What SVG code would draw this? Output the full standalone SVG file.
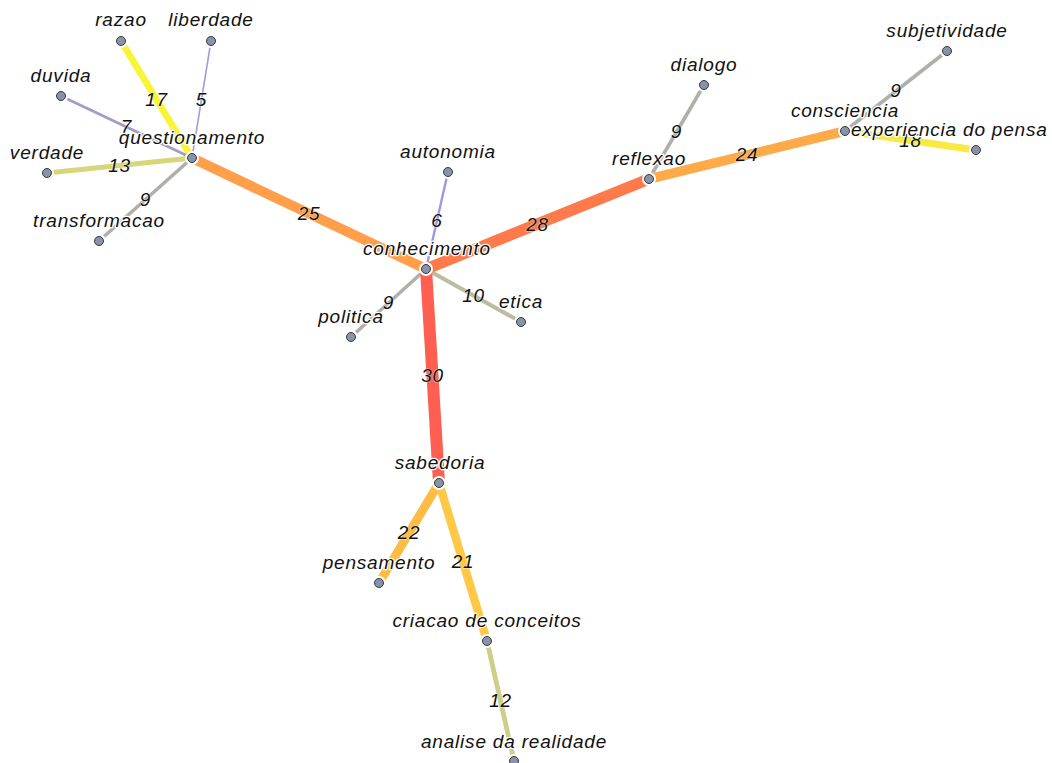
<svg xmlns="http://www.w3.org/2000/svg" width="1052" height="763" viewBox="0 0 1052 763">
  <style>
    .lbl { font-family: "Liberation Sans", Arial, sans-serif; font-style: italic; font-size: 19px; letter-spacing: 0.8px; fill: #111; }
    .node-lbl { text-anchor: middle; paint-order: stroke; stroke: #fff; stroke-width: 2.5px; stroke-linejoin: round; }
    .edge-lbl { text-anchor: middle; paint-order: stroke; stroke: #fff; stroke-width: 1px; stroke-opacity: 0.6; }
    .edge { fill: none; stroke-linecap: butt; }
    .gap { fill: #fff; }
    .dot { fill: #8892a8; stroke: #3a3a3a; stroke-width: 1; }
  </style>

  <!-- weighted links: stroke width grows with weight, colour runs lavender -> grey -> yellow -> red -->
  <g id="connectors">
    <line class="edge" x1="192" y1="158" x2="121" y2="41" stroke="#f7f43a" stroke-width="6.8"/>
    <line class="edge" x1="192" y1="158" x2="211" y2="41" stroke="#a0a0e0" stroke-width="1.6"/>
    <line class="edge" x1="192" y1="158" x2="61" y2="96" stroke="#a29cc6" stroke-width="2.8"/>
    <line class="edge" x1="192" y1="158" x2="47" y2="173" stroke="#d6d67a" stroke-width="5.2"/>
    <line class="edge" x1="192" y1="158" x2="99" y2="241" stroke="#b0b0aa" stroke-width="3.6"/>
    <line class="edge" x1="192" y1="158" x2="426" y2="269" stroke="#ff9f4a" stroke-width="10"/>
    <line class="edge" x1="426" y1="269" x2="448" y2="172" stroke="#9c9ade" stroke-width="2.4"/>
    <line class="edge" x1="426" y1="269" x2="351" y2="337" stroke="#b0b0aa" stroke-width="3.6"/>
    <line class="edge" x1="426" y1="269" x2="521" y2="322" stroke="#bcbca0" stroke-width="4"/>
    <line class="edge" x1="426" y1="269" x2="649" y2="179" stroke="#ff7a4a" stroke-width="11.2"/>
    <line class="edge" x1="426" y1="269" x2="439" y2="483" stroke="#ff5f50" stroke-width="12"/>
    <line class="edge" x1="649" y1="179" x2="704" y2="85" stroke="#b0b0aa" stroke-width="3.6"/>
    <line class="edge" x1="649" y1="179" x2="845" y2="131" stroke="#ffaa48" stroke-width="9.6"/>
    <line class="edge" x1="845" y1="131" x2="947" y2="51" stroke="#b0b0aa" stroke-width="3.6"/>
    <line class="edge" x1="845" y1="131" x2="976" y2="150" stroke="#f8ea40" stroke-width="7.2"/>
    <line class="edge" x1="439" y1="483" x2="379" y2="583" stroke="#ffbc44" stroke-width="8.8"/>
    <line class="edge" x1="439" y1="483" x2="487" y2="641" stroke="#ffc845" stroke-width="8.4"/>
    <line class="edge" x1="487" y1="641" x2="514" y2="761" stroke="#cece8a" stroke-width="4.8"/>
  </g>

  <!-- link weights, placed at the middle of each link -->
  <g id="weights" class="lbl edge-lbl">
    <text x="156.5" y="106">17</text>
    <text x="201.5" y="106">5</text>
    <text x="126.5" y="133">7</text>
    <text x="119.5" y="172">13</text>
    <text x="145.5" y="206">9</text>
    <text x="309" y="220">25</text>
    <text x="437" y="227">6</text>
    <text x="388.5" y="309">9</text>
    <text x="473.5" y="302">10</text>
    <text x="537.5" y="231">28</text>
    <text x="432.5" y="382">30</text>
    <text x="676.5" y="138">9</text>
    <text x="747" y="161">24</text>
    <text x="896" y="97">9</text>
    <text x="910.5" y="147">18</text>
    <text x="409" y="539">22</text>
    <text x="463" y="568">21</text>
    <text x="500.5" y="707">12</text>
  </g>

  <g id="n-questionamento"><circle class="gap" cx="192" cy="158" r="7"/><circle class="dot" cx="192" cy="158" r="4.5"/><text class="lbl node-lbl" x="192" y="144">questionamento</text></g>
  <g id="n-razao"><circle class="gap" cx="121" cy="41" r="7"/><circle class="dot" cx="121" cy="41" r="4.5"/><text class="lbl node-lbl" x="121" y="26">razao</text></g>
  <g id="n-liberdade"><circle class="gap" cx="211" cy="41" r="7"/><circle class="dot" cx="211" cy="41" r="4.5"/><text class="lbl node-lbl" x="211" y="26">liberdade</text></g>
  <g id="n-duvida"><circle class="gap" cx="61" cy="96" r="7"/><circle class="dot" cx="61" cy="96" r="4.5"/><text class="lbl node-lbl" x="61" y="82">duvida</text></g>
  <g id="n-verdade"><circle class="gap" cx="47" cy="173" r="7"/><circle class="dot" cx="47" cy="173" r="4.5"/><text class="lbl node-lbl" x="47" y="159">verdade</text></g>
  <g id="n-transformacao"><circle class="gap" cx="99" cy="241" r="7"/><circle class="dot" cx="99" cy="241" r="4.5"/><text class="lbl node-lbl" x="99" y="227">transformacao</text></g>
  <g id="n-conhecimento"><circle class="gap" cx="426" cy="269" r="7"/><circle class="dot" cx="426" cy="269" r="4.5"/><text class="lbl node-lbl" x="427" y="255">conhecimento</text></g>
  <g id="n-autonomia"><circle class="gap" cx="448" cy="172" r="7"/><circle class="dot" cx="448" cy="172" r="4.5"/><text class="lbl node-lbl" x="448" y="158">autonomia</text></g>
  <g id="n-politica"><circle class="gap" cx="351" cy="337" r="7"/><circle class="dot" cx="351" cy="337" r="4.5"/><text class="lbl node-lbl" x="351" y="323">politica</text></g>
  <g id="n-etica"><circle class="gap" cx="521" cy="322" r="7"/><circle class="dot" cx="521" cy="322" r="4.5"/><text class="lbl node-lbl" x="521" y="308">etica</text></g>
  <g id="n-reflexao"><circle class="gap" cx="649" cy="179" r="7"/><circle class="dot" cx="649" cy="179" r="4.5"/><text class="lbl node-lbl" x="649" y="165">reflexao</text></g>
  <g id="n-dialogo"><circle class="gap" cx="704" cy="85" r="7"/><circle class="dot" cx="704" cy="85" r="4.5"/><text class="lbl node-lbl" x="704" y="71">dialogo</text></g>
  <g id="n-consciencia"><circle class="gap" cx="845" cy="131" r="7"/><circle class="dot" cx="845" cy="131" r="4.5"/><text class="lbl node-lbl" x="845" y="117">consciencia</text></g>
  <g id="n-subjetividade"><circle class="gap" cx="947" cy="51" r="7"/><circle class="dot" cx="947" cy="51" r="4.5"/><text class="lbl node-lbl" x="947" y="37">subjetividade</text></g>
  <g id="n-experiencia"><circle class="gap" cx="976" cy="150" r="7"/><circle class="dot" cx="976" cy="150" r="4.5"/><text class="lbl node-lbl" x="851" y="136" style="text-anchor:start">experiencia do pensa</text></g>
  <g id="n-sabedoria"><circle class="gap" cx="439" cy="483" r="7"/><circle class="dot" cx="439" cy="483" r="4.5"/><text class="lbl node-lbl" x="440" y="469">sabedoria</text></g>
  <g id="n-pensamento"><circle class="gap" cx="379" cy="583" r="7"/><circle class="dot" cx="379" cy="583" r="4.5"/><text class="lbl node-lbl" x="379" y="569">pensamento</text></g>
  <g id="n-criacao"><circle class="gap" cx="487" cy="641" r="7"/><circle class="dot" cx="487" cy="641" r="4.5"/><text class="lbl node-lbl" x="487" y="627">criacao de conceitos</text></g>
  <g id="n-analise"><circle class="gap" cx="514" cy="761" r="7"/><circle class="dot" cx="514" cy="761" r="4.5"/><text class="lbl node-lbl" x="514" y="748">analise da realidade</text></g>
</svg>
